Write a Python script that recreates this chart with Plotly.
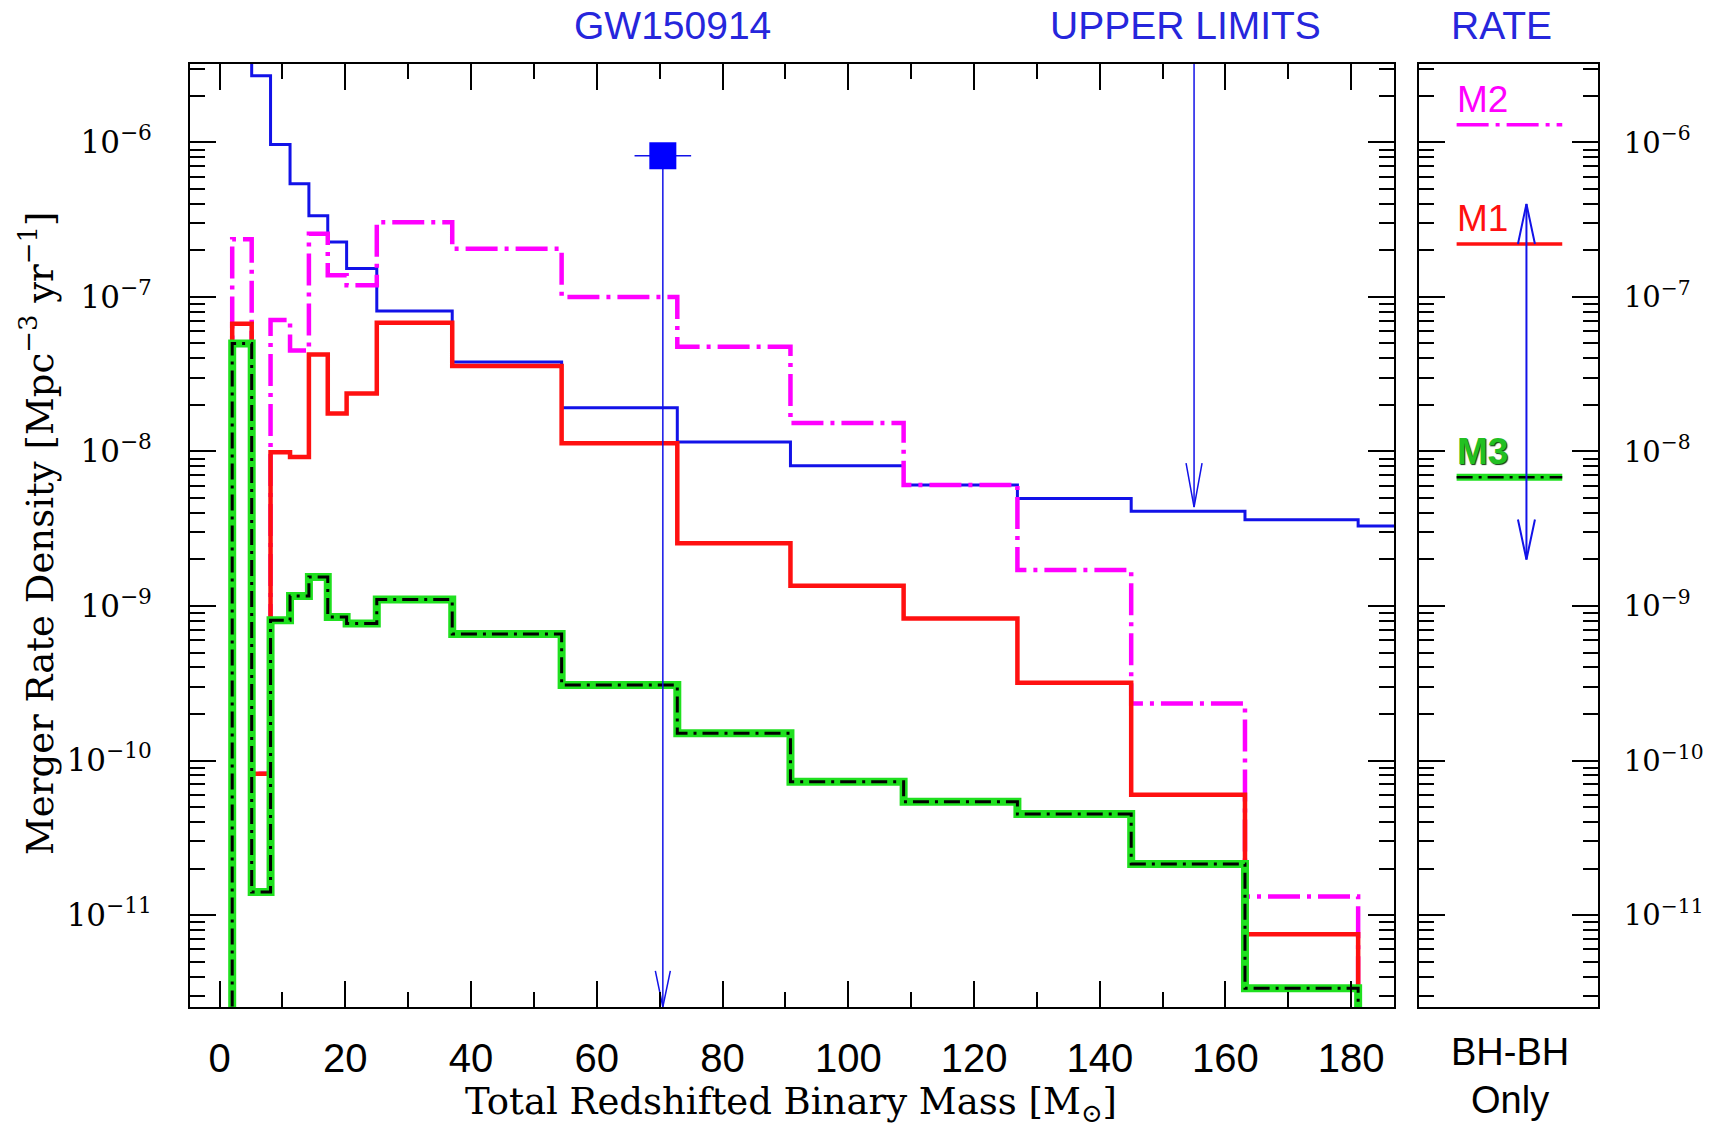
import numpy as np
import plotly.graph_objects as go

# ---------------------------------------------------------------------------
# Data
# ---------------------------------------------------------------------------
# Bin edges of the total redshifted binary mass [M_sun]
MASS_EDGES = [2.0, 5.1, 8.1, 11.2, 14.2, 17.2, 20.2, 25.0, 37.0, 54.4,
              72.8, 90.8, 108.8, 126.9, 145.0, 163.1, 181.1, 199.0]

# Merger rate density per mass bin [Mpc^-3 yr^-1]; None = no mergers in bin
UPPER_LIMITS = [6.0e-6, 2.7e-6, 9.7e-7, 5.4e-7, 3.35e-7, 2.27e-7, 1.53e-7,
                8.1e-8, 3.8e-8, 1.92e-8, 1.15e-8, 8.1e-9, 6.07e-9, 4.97e-9,
                4.1e-9, 3.62e-9, 3.3e-9]
MODEL_M1 = [6.7e-8, 8.2e-11, 9.9e-9, 9.2e-9, 4.25e-8, 1.76e-8, 2.37e-8,
            6.8e-8, 3.57e-8, 1.13e-8, 2.55e-9, 1.35e-9, 8.3e-10, 3.19e-10,
            6.0e-11, 7.5e-12, None]
MODEL_M2 = [2.36e-7, 8.2e-11, 7.1e-8, 4.5e-8, 2.57e-7, 1.38e-7, 1.19e-7,
            3.05e-7, 2.05e-7, 1.0e-7, 4.76e-8, 1.53e-8, 6.07e-9, 1.71e-9,
            2.34e-10, 1.32e-11, None]
MODEL_M3 = [5.0e-8, 1.41e-11, 8.1e-10, 1.16e-9, 1.54e-9, 8.5e-10, 7.7e-10,
            1.1e-9, 6.6e-10, 3.08e-10, 1.5e-10, 7.3e-11, 5.4e-11, 4.5e-11,
            2.14e-11, 3.36e-12, None]

# Total BH-BH merger rates of the three models [Mpc^-3 yr^-1]
RATE_M1 = 2.2e-7
RATE_M2 = 1.3e-6
RATE_M3 = 6.8e-9

# GW150914: redshifted total mass, its error, rate estimate and rate range
GW_MASS = 70.5
GW_MASS_ERR = 4.5
GW_RATE = 8.2e-7
GW_RATE_RANGE = [2.0e-9, 4.0e-7]

# Position of the upper-limit arrow
UL_ARROW_MASS = 155.0
UL_ARROW_RATE = 4.37e-9

# Axis ranges and ticks
X_RANGE = [-4.7, 186.8]
LOG_Y_RANGE = [-11.595, -5.492]
X_TICKS = [0, 20, 40, 60, 80, 100, 120, 140, 160, 180]
Y_DECADES = [-11, -10, -9, -8, -7, -6]

# ---------------------------------------------------------------------------
# Layout geometry
# ---------------------------------------------------------------------------
W, H = 1728, 1128
MAIN_DOM = [0.1100, 0.8067]
RATE_DOM = [0.8212, 0.9248]
Y_DOM = [0.1073, 0.9433]

FLOOR = 1e-14  # below the plotted range: lines leaving the bottom

BLUE = "#1212e8"
TXT_BLUE = "#2626dc"
RED = "#ff1010"
MAGENTA = "#ff00ff"
GREEN = "#1fe01f"

SANS = "Liberation Sans, Arial, sans-serif"
SERIF = "DejaVu Serif, serif"

px_per_x = (MAIN_DOM[1] - MAIN_DOM[0]) * W / (X_RANGE[1] - X_RANGE[0])
px_per_x2 = (RATE_DOM[1] - RATE_DOM[0]) * W
px_per_dec = (Y_DOM[1] - Y_DOM[0]) * H / (LOG_Y_RANGE[1] - LOG_Y_RANGE[0])
Y_MIN = 10 ** LOG_Y_RANGE[0]
Y_MAX = 10 ** LOG_Y_RANGE[1]


def step_path(edges, values, from_floor=True):
    """Outline of a histogram: vertical risers at every bin edge."""
    xs, ys = [], []
    if from_floor:
        xs.append(edges[0])
        ys.append(FLOOR)
    for i, v in enumerate(values):
        v = FLOOR if v is None else v
        xs += [edges[i], edges[i + 1]]
        ys += [v, v]
    return xs, ys


def v_head(x_tip, y_tip, pointing, x_scale, half_w=8.5, length=40.0):
    """Open V arrowhead whose tip sits at (x_tip, y_tip)."""
    dx = half_w / x_scale
    sign = 1 if pointing == "down" else -1
    y_arm = 10 ** (np.log10(y_tip) + sign * length / px_per_dec)
    return [x_tip - dx, x_tip, x_tip + dx], [y_arm, y_tip, y_arm]


fig = go.Figure()

# --- main panel: histograms -------------------------------------------------
xs, ys = step_path(MASS_EDGES, UPPER_LIMITS, from_floor=False)
fig.add_trace(go.Scatter(x=xs, y=ys, mode="lines",
                         line=dict(color=BLUE, width=3), xaxis="x", yaxis="y"))

xs, ys = step_path(MASS_EDGES, MODEL_M2)
fig.add_trace(go.Scatter(x=xs, y=ys, mode="lines",
                         line=dict(color=MAGENTA, width=4.5,
                                   dash="32px,7px,4px,7px"),
                         xaxis="x", yaxis="y"))

xs, ys = step_path(MASS_EDGES, MODEL_M1)
fig.add_trace(go.Scatter(x=xs, y=ys, mode="lines",
                         line=dict(color=RED, width=4.5), xaxis="x", yaxis="y"))

xs, ys = step_path(MASS_EDGES, MODEL_M3)
fig.add_trace(go.Scatter(x=xs, y=ys, mode="lines",
                         line=dict(color=GREEN, width=8), xaxis="x", yaxis="y"))
fig.add_trace(go.Scatter(x=xs, y=ys, mode="lines",
                         line=dict(color="black", width=3,
                                   dash="16px,6px,3px,6px"),
                         xaxis="x", yaxis="y"))

# --- GW150914 point with its downward rate bar -------------------------------
fig.add_trace(go.Scatter(x=[GW_MASS, GW_MASS], y=[GW_RATE, Y_MIN], mode="lines",
                         line=dict(color=BLUE, width=1.5), xaxis="x", yaxis="y"))
hx, hy = v_head(GW_MASS, Y_MIN, "down", px_per_x, half_w=7.5, length=36)
fig.add_trace(go.Scatter(x=hx, y=hy, mode="lines",
                         line=dict(color=BLUE, width=1.5), xaxis="x", yaxis="y"))
fig.add_trace(go.Scatter(x=[GW_MASS], y=[GW_RATE], mode="markers",
                         marker=dict(symbol="square", size=27, color="#0000ff",
                                     line=dict(width=0)),
                         error_x=dict(type="data", array=[GW_MASS_ERR],
                                      color=BLUE, thickness=1.5, width=0),
                         xaxis="x", yaxis="y"))

# --- upper-limit arrow ------------------------------------------------------
fig.add_trace(go.Scatter(x=[UL_ARROW_MASS, UL_ARROW_MASS],
                         y=[Y_MAX * 10, UL_ARROW_RATE], mode="lines",
                         line=dict(color=BLUE, width=1.5), xaxis="x", yaxis="y"))
hx, hy = v_head(UL_ARROW_MASS, UL_ARROW_RATE, "down", px_per_x,
                half_w=8, length=44)
fig.add_trace(go.Scatter(x=hx, y=hy, mode="lines",
                         line=dict(color=BLUE, width=1.5), xaxis="x", yaxis="y"))

# --- rate panel ---------------------------------------------------------------
LINE_X = [0.21, 0.80]
fig.add_trace(go.Scatter(x=LINE_X, y=[RATE_M2] * 2, mode="lines",
                         line=dict(color=MAGENTA, width=3.5,
                                   dash="32px,7px,4px,7px"),
                         xaxis="x2", yaxis="y2"))
fig.add_trace(go.Scatter(x=LINE_X, y=[RATE_M1] * 2, mode="lines",
                         line=dict(color=RED, width=3.5), xaxis="x2", yaxis="y2"))
fig.add_trace(go.Scatter(x=LINE_X, y=[RATE_M3] * 2, mode="lines",
                         line=dict(color=GREEN, width=7), xaxis="x2", yaxis="y2"))
fig.add_trace(go.Scatter(x=LINE_X, y=[RATE_M3] * 2, mode="lines",
                         line=dict(color="black", width=2.5,
                                   dash="16px,6px,3px,6px"),
                         xaxis="x2", yaxis="y2"))

ARROW_X = 0.60
fig.add_trace(go.Scatter(x=[ARROW_X, ARROW_X], y=GW_RATE_RANGE, mode="lines",
                         line=dict(color=BLUE, width=2), xaxis="x2", yaxis="y2"))
hx, hy = v_head(ARROW_X, GW_RATE_RANGE[1], "up", px_per_x2, half_w=8.5, length=40)
fig.add_trace(go.Scatter(x=hx, y=hy, mode="lines",
                         line=dict(color=BLUE, width=2), xaxis="x2", yaxis="y2"))
hx, hy = v_head(ARROW_X, GW_RATE_RANGE[0], "down", px_per_x2, half_w=8.5, length=40)
fig.add_trace(go.Scatter(x=hx, y=hy, mode="lines",
                         line=dict(color=BLUE, width=2), xaxis="x2", yaxis="y2"))

# ---------------------------------------------------------------------------
# Axes
# ---------------------------------------------------------------------------
y_tickvals = [10.0 ** d for d in Y_DECADES]
y_ticktext = ["10<sup>\u2212%d</sup>" % (-d) for d in Y_DECADES]

frame = dict(showline=True, linecolor="black", linewidth=2, showgrid=False,
             zeroline=False)

fig.update_layout(
    width=W, height=H,
    margin=dict(l=0, r=0, t=0, b=0),
    paper_bgcolor="white", plot_bgcolor="white",
    showlegend=False,
    xaxis=dict(domain=MAIN_DOM, range=X_RANGE, anchor="y",
               tickmode="array", tickvals=X_TICKS,
               ticks="inside", ticklen=26, tickwidth=1.5, tickcolor="black",
               mirror="ticks", ticklabelstandoff=15,
               tickfont=dict(family=SANS, size=40, color="black"),
               minor=dict(ticks="inside", ticklen=15, tickwidth=1.5,
                          tickcolor="black", dtick=10, tick0=0),
               **frame),
    yaxis=dict(domain=Y_DOM, type="log", range=LOG_Y_RANGE, anchor="x",
               tickmode="array", tickvals=y_tickvals, ticktext=y_ticktext,
               ticks="inside", ticklen=26, tickwidth=1.5, tickcolor="black",
               mirror="ticks", ticklabelstandoff=30,
               tickfont=dict(family=SERIF, size=31, color="black"),
               minor=dict(ticks="inside", ticklen=15, tickwidth=1.5,
                          tickcolor="black", dtick="D1"),
               **frame),
    xaxis2=dict(domain=RATE_DOM, range=[0, 1], anchor="y2",
                showticklabels=False, ticks="", mirror=True, **frame),
    yaxis2=dict(domain=Y_DOM, type="log", range=LOG_Y_RANGE, anchor="x2",
                side="right",
                tickmode="array", tickvals=y_tickvals, ticktext=y_ticktext,
                ticks="inside", ticklen=26, tickwidth=1.5, tickcolor="black",
                mirror="ticks", ticklabelstandoff=18,
                tickfont=dict(family=SERIF, size=29, color="black"),
                minor=dict(ticks="inside", ticklen=15, tickwidth=1.5,
                           tickcolor="black", dtick="D1"),
                **frame),
)

# ---------------------------------------------------------------------------
# Text
# ---------------------------------------------------------------------------
def paper_text(text, x, y, size, color="black", family=SANS, angle=0, **kw):
    fig.add_annotation(text=text, x=x, y=y, xref="paper", yref="paper",
                       showarrow=False, textangle=angle,
                       font=dict(family=family, size=size, color=color),
                       xanchor="center", yanchor="middle", **kw)


paper_text("GW150914", 0.3889, 0.977, 39, TXT_BLUE)
paper_text("UPPER LIMITS", 0.6863, 0.977, 39, TXT_BLUE)
paper_text("RATE", 0.8690, 0.977, 39, TXT_BLUE)
paper_text("BH-BH", 0.8740, 0.0674, 38)
paper_text("Only", 0.8740, 0.0248, 38)
paper_text("Total Redshifted Binary Mass [M<sub>\u2299</sub>]", 0.4578, 0.0215,
           37, family=SERIF)
paper_text("Merger Rate Density [Mpc<sup>\u22123</sup> yr<sup>\u22121</sup>]",
           0.022, 0.5266, 37, family=SERIF, angle=-90)

for label, rate, color, extra in [("M2", RATE_M2, MAGENTA, {}),
                                  ("M1", RATE_M1, RED, {}),
                                  ("<b>M3</b>", RATE_M3, "#22c022",
                                   dict(shadow="1px 1px 1px #0a3a0a"))]:
    fig.add_annotation(text=label, x=LINE_X[0], y=np.log10(rate),
                       xref="x2", yref="y2", showarrow=False,
                       xanchor="left", yanchor="bottom", yshift=3, xshift=-2,
                       font=dict(family=SANS, size=37, color=color, **extra))

fig.write_html("out.html")
